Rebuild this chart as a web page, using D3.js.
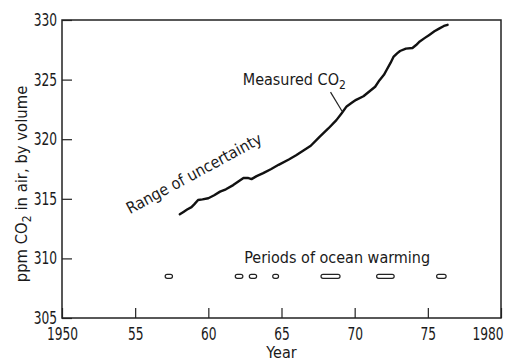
<!DOCTYPE html>
<html>
<head>
<meta charset="utf-8">
<script src="https://cdn.jsdelivr.net/npm/d3@7"></script>
<style>
    body { margin: 0; background: #fff; }
    svg text { font-family: "DejaVu Sans Condensed", "DejaVu Sans", sans-serif; fill: #1a1a1a; }
</style>
</head>
<body>
<svg width="505" height="361"></svg>
<script>
const width = 505;
const height = 361;
const margin = { top: 20, right: 4, bottom: 43, left: 62 };
const squeeze = 0.8; // narrow the digits like the original lettering

// measured CO2 curve
const co2Years = [
    1958.05, 1958.3, 1958.55, 1958.85, 1959.05, 1959.3, 1959.6, 1960.0, 1960.4, 1960.8,
    1961.2, 1961.7, 1962.1, 1962.4, 1962.7, 1962.95, 1963.3, 1963.75, 1964.3, 1964.8,
    1965.5, 1966.0, 1966.5, 1967.0, 1967.6, 1968.2, 1968.75, 1969.1, 1969.45, 1969.8,
    1970.1, 1970.6, 1971.0, 1971.4, 1971.7, 1972.0, 1972.2, 1972.45, 1972.65, 1972.9,
    1973.1, 1973.5, 1973.95, 1974.2, 1974.45, 1974.8, 1975.1, 1975.45, 1975.8, 1976.1,
    1976.35,
];
const co2Ppm = [
    313.7, 313.9, 314.1, 314.3, 314.55, 314.9, 314.95, 315.05, 315.3, 315.6,
    315.8, 316.15, 316.5, 316.75, 316.75, 316.65, 316.9, 317.15, 317.5, 317.85,
    318.3, 318.65, 319.05, 319.45, 320.2, 320.9, 321.6, 322.15, 322.75, 323.05,
    323.3, 323.6, 324.0, 324.4, 324.95, 325.4, 325.85, 326.4, 326.9, 327.2,
    327.4, 327.6, 327.65, 327.9, 328.2, 328.5, 328.75, 329.05, 329.3, 329.5,
    329.6,
];

// periods of ocean warming (start / end year)
const warmStart = [1957.05, 1961.84, 1962.8, 1964.4, 1967.7, 1971.5, 1975.6];
const warmEnd = [1957.55, 1962.36, 1963.3, 1964.8, 1969.0, 1972.7, 1976.25];
const warmLevel = 308.5;

const xTicks = [1950, 1955, 1960, 1965, 1970, 1975, 1980];
const xTickLabels = ["1950", "55", "60", "65", "70", "75", "1980"];
const yTicks = [305, 310, 315, 320, 325, 330];
const yTickLabels = ["305", "310", "315", "320", "325", "330"];

const svg = d3.select("svg");

const x = d3.scaleLinear()
    .domain([1950, 1980])
    .range([margin.left, width - margin.right]);
const y = d3.scaleLinear()
    .domain([305, 330])
    .range([height - margin.bottom, margin.top]);

// frame
svg.append("rect")
    .attr("x", x(1950))
    .attr("y", y(330))
    .attr("width", x(1980) - x(1950))
    .attr("height", y(305) - y(330))
    .attr("fill", "none")
    .attr("stroke", "#222")
    .attr("stroke-width", 1.5);

// axes, ticks pointing inward
svg.append("g")
    .attr("transform", `translate(0, ${y(305)})`)
    .call(d3.axisBottom(x)
        .tickValues(xTicks)
        .tickFormat((d, i) => xTickLabels[i])
        .tickSize(-10)
        .tickPadding(10))
    .call((g) => g.select(".domain").remove())
    .call((g) => g.selectAll(".tick line").attr("stroke", "#222").attr("stroke-width", 1.2))
    .call((g) => g.selectAll(".tick text")
        .attr("font-size", 17)
        .attr("transform", `scale(${squeeze}, 1)`)
        .filter((d) => d === 1980)
        .attr("text-anchor", "end")
        .attr("x", 2 / squeeze));

svg.append("g")
    .attr("transform", `translate(${x(1950)}, 0)`)
    .call(d3.axisLeft(y)
        .tickValues(yTicks)
        .tickFormat((d, i) => yTickLabels[i])
        .tickSize(-10)
        .tickPadding(5))
    .call((g) => g.select(".domain").remove())
    .call((g) => g.selectAll(".tick line").attr("stroke", "#222").attr("stroke-width", 1.2))
    .call((g) => g.selectAll(".tick text")
        .attr("font-size", 17)
        .attr("transform", `scale(${squeeze}, 1)`)
        .attr("x", -5 / squeeze));

svg.selectAll(".tick text").attr("fill", "#1a1a1a");

// axis titles
svg.append("text")
    .attr("x", (x(1950) + x(1980)) / 2)
    .attr("y", 358)
    .attr("text-anchor", "middle")
    .attr("font-size", 16)
    .text("Year");

const yTitle = svg.append("text")
    .attr("transform", `translate(27, ${(y(305) + y(330)) / 2 + 15}) rotate(-90)`)
    .attr("text-anchor", "middle")
    .attr("font-size", 16.5);
yTitle.append("tspan").text("ppm CO");
yTitle.append("tspan").attr("font-size", 12).attr("dy", 4).text("2");
yTitle.append("tspan").attr("dy", -4).text(" in air, by volume");

// CO2 curve
const co2Data = co2Years.map((d, i) => ({ year: d, ppm: co2Ppm[i] }));
svg.append("path")
    .datum(co2Data)
    .attr("fill", "none")
    .attr("stroke", "#111")
    .attr("stroke-width", 2.4)
    .attr("stroke-linejoin", "round")
    .attr("stroke-linecap", "round")
    .attr("d", d3.line().x((d) => x(d.year)).y((d) => y(d.ppm)));

// ocean warming bars
svg.append("g")
    .selectAll("rect")
    .data(warmStart)
    .enter()
    .append("rect")
    .attr("x", (d) => x(d))
    .attr("y", y(warmLevel) - 2)
    .attr("width", (d, i) => x(warmEnd[i]) - x(d))
    .attr("height", 4)
    .attr("rx", 2)
    .attr("fill", "#fff")
    .attr("stroke", "#222")
    .attr("stroke-width", 1.2);

// annotations
svg.append("text")
    .attr("x", x(1962.45))
    .attr("y", y(309.6))
    .attr("font-size", 16)
    .text("Periods of ocean warming");

const measured = svg.append("text")
    .attr("x", x(1962.35))
    .attr("y", y(324.55))
    .attr("font-size", 16);
measured.append("tspan").text("Measured CO");
measured.append("tspan").attr("font-size", 12).attr("dy", 4).text("2");

svg.append("line")
    .attr("x1", x(1968.35))
    .attr("y1", y(323.95))
    .attr("x2", x(1969.13))
    .attr("y2", y(322.37))
    .attr("stroke", "#222")
    .attr("stroke-width", 1.2);

svg.append("text")
    .attr("transform", `translate(${x(1954.65)}, ${y(313.7)}) rotate(-28.4)`)
    .attr("font-size", 16)
    .text("Range of uncertainty");
</script>
</body>
</html>
